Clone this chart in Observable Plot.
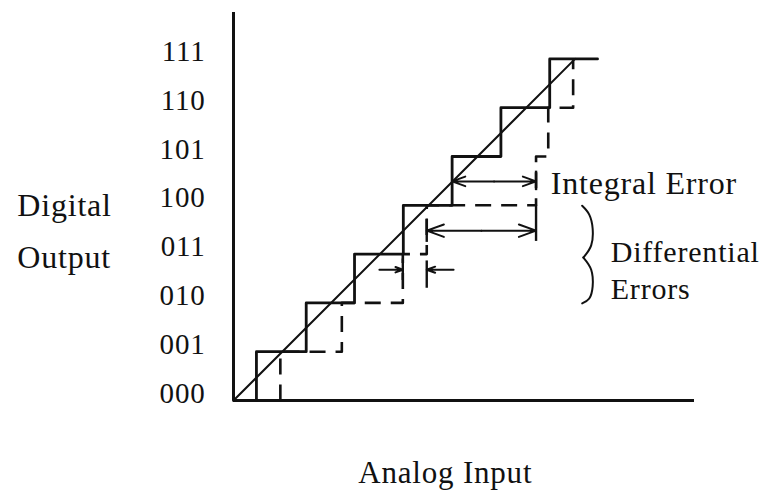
<!DOCTYPE html>
<html><head><meta charset="utf-8">
<script src="https://cdn.jsdelivr.net/npm/d3@7"></script>
<script src="https://cdn.jsdelivr.net/npm/@observablehq/plot@0.6"></script>
<style>body{margin:0;background:#fff} svg{display:block}</style>
</head><body>
<script>
// Output codes (y tick labels) and their levels
const codes = ["000","001","010","011","100","101","110","111"];
const levels = [0,1,2,3,4,5,6,7];
// Ideal code transitions (analog input, LSB units)
const idealEdges = [0.47,1.49,2.48,3.48,4.48,5.48,6.48];
const idealEnd = 7.46;
// Actual (non-ideal) code transitions
const actualEdges = [0.96,2.22,3.47,3.96,6.20,6.45,6.96];
// Ideal transfer line
const diagonalX = [0,7];
const diagonalY = [0,7];
// Error arrows: double-headed and single
const doubleArrows = [
  {from:4.48, to:6.20, level:4.49},
  {from:3.96, to:6.20, level:3.48}
];
const singleArrows = [
  {from:2.99, to:3.47, level:2.68},
  {from:4.51, to:3.96, level:2.68}
];
// extension ticks at arrow ends
const ticks = [
  {x:6.20, y1:3.26, y2:4.00},
  {x:3.96, y1:3.24, y2:3.72},
  {x:3.96, y1:2.30, y2:2.86},
  {x:3.47, y1:2.46, y2:2.90},
  {x:6.20, y1:4.30, y2:4.70}
];
// brace beside "Differential Errors"
const braceX = [7.145,7.29,7.36,7.33,7.17, 7.17,7.33,7.36,7.29,7.145];
const braceY = [3.99,3.81,3.52,3.18,2.93, 2.93,2.68,2.34,2.09,1.99];
const braceArc = [0,0,0,0,0,1,1,1,1,1];
// texts
const xTitle = "Analog Input";
const yTitle = ["Digital","Output"];
const integralLabel = "Integral Error";
const diffLabel = ["Differential","Errors"];

const solidSteps = [{x:0,y:0}, ...idealEdges.map((e,i)=>({x:e,y:levels[i+1]})), {x:idealEnd,y:7}];
const dashedSteps = [...actualEdges.map((e,i)=>({x:e,y:levels[i]})), {x:actualEdges[6], y:7}];
const diag = diagonalX.map((x,i)=>({x, y:diagonalY[i]}));
const arrowSegs = [
  ...doubleArrows.flatMap(a=>{const m=(a.from+a.to)/2; return [{x1:m,x2:a.from,y:a.level},{x1:m,x2:a.to,y:a.level}];}),
  ...singleArrows.map(a=>({x1:a.from,x2:a.to,y:a.level}))
];
const brace = braceX.map((x,i)=>({x, y:braceY[i], arc:braceArc[i]}));
const tickLabels = codes.map((c,i)=>({c, y:levels[i]}));

const FONT = "Liberation Serif";
const INK = "#111";
const chart = Plot.plot({
  width: 766, height: 492,
  marginLeft: 233, marginRight: 72, marginTop: 12, marginBottom: 92,
  x: {domain:[0, 9.447], axis: null},
  y: {domain:[0, 7.951], axis: null},
  style: {fontFamily: FONT, fontSize: "30px", color: INK, background: "#fff", overflow: "visible", letterSpacing: "0.8px"},
  marks: [
    Plot.ruleX([0], {y1: 0, y2: 7.951, stroke: INK, strokeWidth: 3}),
    Plot.ruleY([0], {x1: 0, x2: 9.447, stroke: INK, strokeWidth: 3}),
    Plot.line(dashedSteps, {x:"x", y:"y", curve:"step-before", stroke:INK, strokeWidth:2.6, strokeDasharray:"16,10", strokeLinecap:"butt"}),
    Plot.line(solidSteps, {x:"x", y:"y", curve:"step-after", stroke:INK, strokeWidth:2.8}),
    Plot.line(diag, {x:"x", y:"y", stroke:INK, strokeWidth:2}),
    Plot.ruleX(ticks, {x:"x", y1:"y1", y2:"y2", stroke:INK, strokeWidth:2.4}),
    Plot.arrow(arrowSegs, {x1:"x1", x2:"x2", y1:"y", y2:"y", stroke:INK, strokeWidth:2, headLength:17, headAngle:40}),
    Plot.line(brace, {x:"x", y:"y", z:"arc", curve:"natural", stroke:INK, strokeWidth:2}),
    Plot.text(tickLabels, {x: 0, y: "y", text: "c", textAnchor: "end", lineAnchor: "bottom", dx: -28, dy: 2, fontSize: 29, fill: INK}),
    Plot.text([yTitle.join("\n")], {x: -4.43, y: 2.725, text: d=>d, textAnchor: "start", lineAnchor: "bottom", lineHeight: 1.625, fontSize: 32, fill: INK}),
    Plot.text([xTitle], {x: 4.34, y: -1.69, text: d=>d, textAnchor: "middle", lineAnchor: "bottom", fontSize: 31, fill: INK}),
    Plot.text([integralLabel], {x: 6.5, y: 4.24, text: d=>d, textAnchor: "start", lineAnchor: "bottom", fontSize: 32, fill: INK}),
    Plot.text([diffLabel.join("\n")], {x: 7.73, y: 2.07, text: d=>d, textAnchor: "start", lineAnchor: "bottom", lineHeight: 1.25, fontSize: 30, fill: INK})
  ]
});
document.body.appendChild(chart);
</script>
</body></html>
